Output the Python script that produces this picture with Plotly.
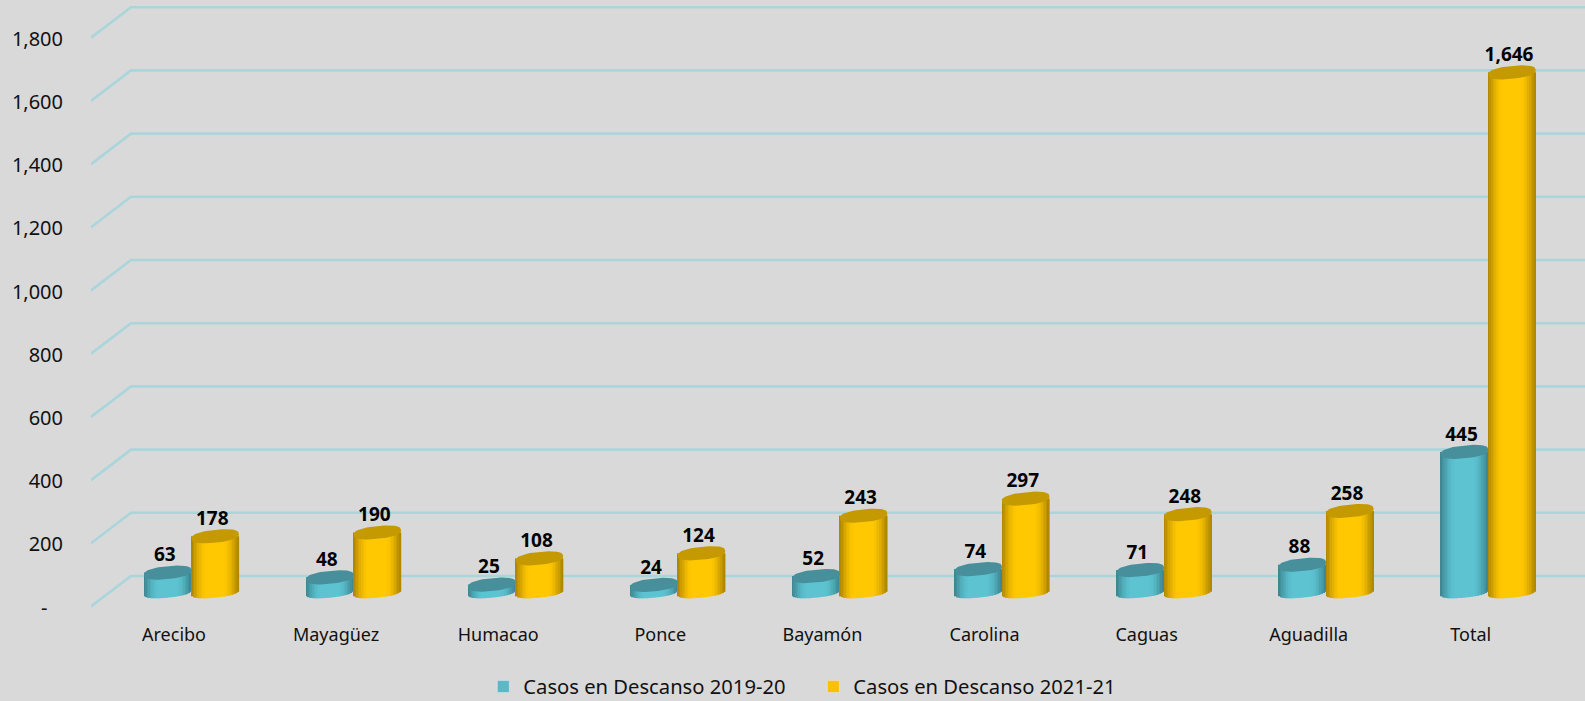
import math
import plotly.graph_objects as go

categories = ["Arecibo", "Mayagüez", "Humacao", "Ponce", "Bayamón", "Carolina", "Caguas", "Aguadilla", "Total"]
series_2019 = [63, 48, 25, 24, 52, 74, 71, 88, 445]
series_2021 = [178, 190, 108, 124, 243, 297, 248, 258, 1646]
y_ticks = [0, 200, 400, 600, 800, 1000, 1200, 1400, 1600, 1800]
y_tick_labels = ["-\u00a0\u00a0\u00a0", "200", "400", "600", "800", "1,000", "1,200", "1,400", "1,600", "1,800"]
name_2019 = "Casos en Descanso 2019-20"
name_2021 = "Casos en Descanso 2021-21"

W, H = 1585, 701
L, B = 91, 86
PX_PER_UNIT = 0.316
BASE_PX = 591
X0_PX, STEP_PX = 191.5, 162.1
px_x = lambda d: d / STEP_PX          # pixels -> category units
px_y = lambda d: d / PX_PER_UNIT      # pixels -> value units
BAR_W = px_x(47.5)
A, RY, RY_BOTTOM, TILT = BAR_W / 2, px_y(6.4), px_y(5.6), px_y(2.3)
TOP_SHIFT = px_y(-1.5)
N_SUPER = 2.5
STRIPS = 30
FONT = "Noto Sans"


def mix(c1, c2, t):
    return "rgb(%d,%d,%d)" % tuple(round(a + (b - a) * t) for a, b in zip(c1, c2))


def shade(edge, mid, u):
    t = min(1, (1 - abs(u)) / 0.66)
    return mix(edge, mid, math.sin(t * math.pi / 2))


def spow(c):
    return math.copysign(abs(c) ** (2 / N_SUPER), c)


fig = go.Figure()
xs = list(range(len(categories)))
SER = [
    (series_2019, -A, name_2019, (60, 130, 142), (93, 195, 209), "#468F9B"),
    (series_2021, A, name_2021, (170, 130, 0), (255, 200, 0), "#C59A00"),
]
for values, off, name, edge, mid, top in SER:
    sw = BAR_W / STRIPS
    for k in range(STRIPS):
        u = -1 + (2 * k + 1) / STRIPS
        base = -RY_BOTTOM * max(0, 1 - abs(u) ** N_SUPER) ** (1 / N_SUPER) + TILT * u - px_y(1)
        fig.add_bar(
            x=[i + off - A + k * sw for i in xs],
            y=[v + TOP_SHIFT - base for v in values],
            base=[base] * len(values),
            width=sw * 1.08, offset=0,
            marker=dict(color=shade(edge, mid, u), line_width=0),
            showlegend=False, hoverinfo="skip",
        )
    ex, ey = [], []
    for i, v in zip(xs, values):
        for n in range(61):
            t = 2 * math.pi * n / 60
            ex.append(i + off + A * spow(math.cos(t)))
            ey.append(v + TOP_SHIFT + RY * spow(math.sin(t)) + TILT * spow(math.cos(t)))
        ex.append(None)
        ey.append(None)
    fig.add_scatter(x=ex, y=ey, mode="lines", line=dict(width=0, color=top), fill="toself",
                    fillcolor=top, showlegend=False, hoverinfo="skip")
    fig.add_scatter(
        x=[i + off - px_x(3) for i in xs],
        y=[v + px_y(14.5) for v in values],
        mode="text", text=[f"{v:,}" for v in values], textposition="middle center",
        textfont=dict(family=FONT, size=19, color="#000000", weight="bold"),
        showlegend=False, hoverinfo="skip",
    )

fig.add_bar(x=[None], y=[None], name=name_2019, marker_color="#5BB8C4")
fig.add_bar(x=[None], y=[None], name=name_2021, marker_color="#FFC000")

x_left = (L - X0_PX) / STEP_PX
x_right = (W - X0_PX) / STEP_PX
x_back = x_left + px_x(40)
y_lo = (BASE_PX - (H - B)) / PX_PER_UNIT
y_hi = BASE_PX / PX_PER_UNIT
FRONT, BACK, LABEL = px_y(-14.5 - 1), px_y(16 - 1), px_y(-16.5)
shapes = []
for v in y_ticks:
    shapes.append(dict(type="path", layer="below", xref="x", yref="y",
                       path=f"M{x_left},{v + FRONT} L{x_back},{v + BACK} L{x_right},{v + BACK}",
                       line=dict(color="#A9D5DB", width=2.6)))

fig.update_layout(
    width=W, height=H, autosize=False,
    margin=dict(l=L, r=0, t=0, b=B, pad=0, autoexpand=False),
    paper_bgcolor="#D9D9D9", plot_bgcolor="#D9D9D9",
    barmode="overlay", shapes=shapes, hovermode=False,
    font=dict(family=FONT, color="#111111"),
    xaxis=dict(range=[x_left, x_right], tickmode="array",
               tickvals=[i - px_x(17.5) for i in xs], ticktext=categories,
               showgrid=False, zeroline=False, showline=False,
               ticks="outside", ticklen=3, tickcolor="rgba(0,0,0,0)",
               tickfont=dict(size=18, family=FONT, color="#111111")),
    yaxis=dict(range=[y_lo, y_hi], tickmode="array",
               tickvals=[v + LABEL for v in y_ticks], ticktext=y_tick_labels,
               showgrid=False, zeroline=False, showline=False,
               ticks="outside", ticklen=23, tickcolor="rgba(0,0,0,0)",
               tickfont=dict(size=20, family=FONT, color="#111111")),
    legend=dict(orientation="h", xref="paper", yref="paper",
                x=0.2626, xanchor="left", y=-0.117, yanchor="middle",
                font=dict(size=20.2, family=FONT, color="#111111"),
                bgcolor="rgba(0,0,0,0)", entrywidth=285, entrywidthmode="pixels",
                traceorder="normal"),
)
fig.write_html("out.html", config={"displayModeBar": False},
               post_script="document.body.style.margin='0';document.body.style.background='#D9D9D9';document.documentElement.style.overflow='hidden';window.dispatchEvent(new Event('resize'));")
